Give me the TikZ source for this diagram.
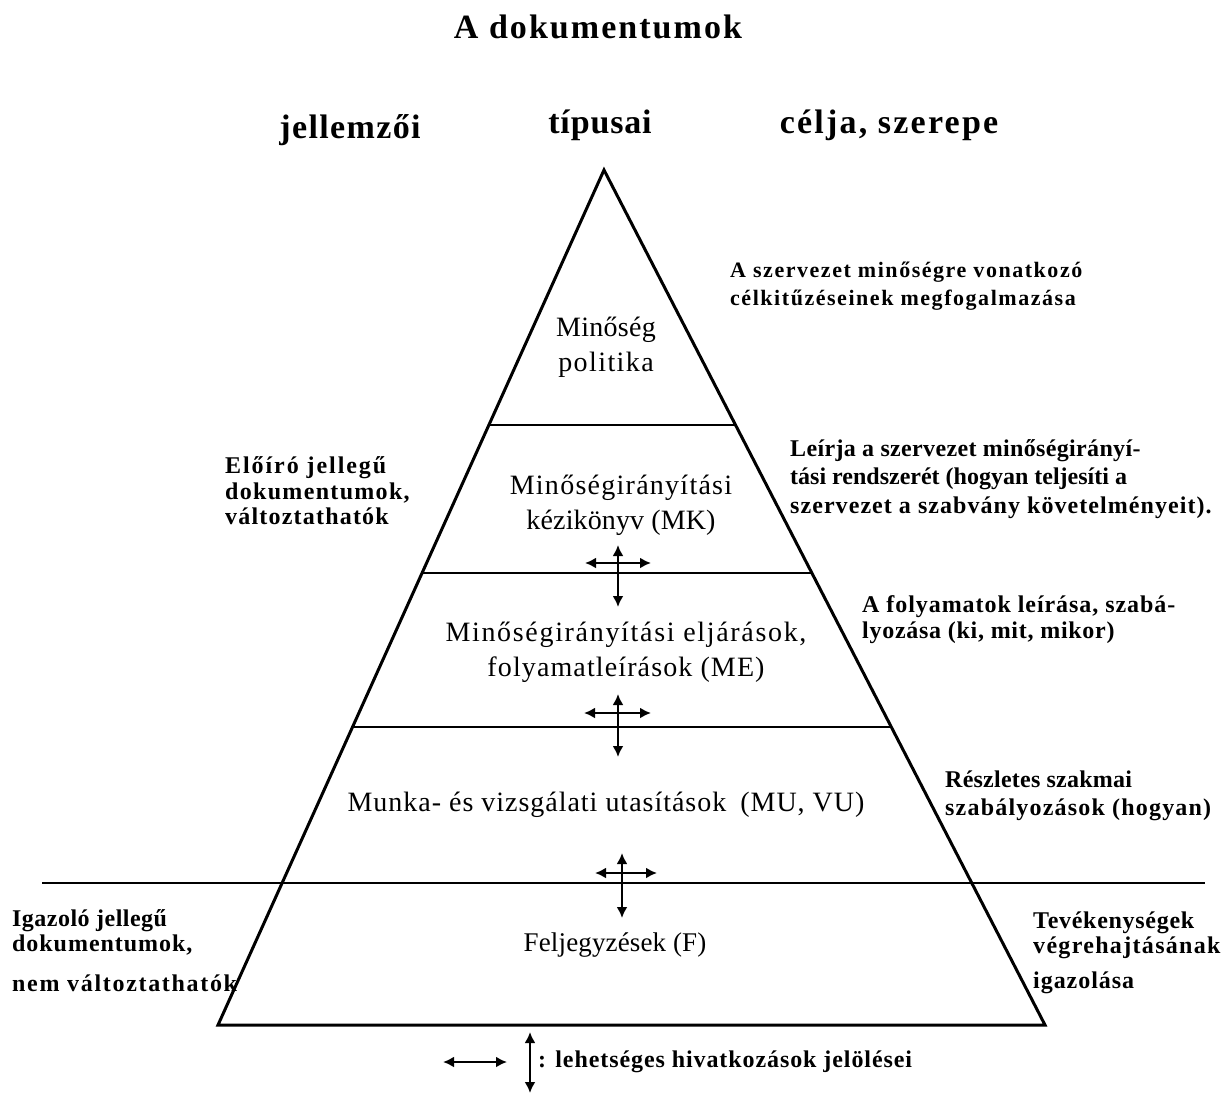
\documentclass[tikz,border=0pt]{standalone}
\usepackage{fontspec}
\setmainfont{Liberation Serif}
\usetikzlibrary{arrows.meta,calc}
\newcommand{\lsp}[1]{\addfontfeature{LetterSpace=#1}}
\tikzset{
  edge/.style={line width=3pt, line join=miter},
  thinrule/.style={line width=1.5pt},
  thickrule/.style={line width=2.6pt},
  inner/.style={font=\fontsize{28}{35}\selectfont\lsp{4}, align=center, inner sep=0pt},
  side/.style={font=\fontsize{24}{28.5}\selectfont\bfseries\lsp{3}, align=left, anchor=west, inner sep=0pt},
  head/.style={font=\fontsize{34}{38}\selectfont\bfseries\lsp{4}, inner sep=0pt},
  refarrow/.style={line width=2.2pt, {Latex[length=11pt,width=11pt]}-{Latex[length=11pt,width=11pt]}},
}
\begin{document}
\begin{tikzpicture}[x=1pt,y=-1pt]
\useasboundingbox (0,0) rectangle (1222,1095);
% title and headers
\node[head, font=\fontsize{34}{38}\selectfont\bfseries\lsp{6}] (title) at (598,27) {A dokumentumok};
\node[head] (hjell) at (350,130) {jellemzői};
\node[head, font=\fontsize{34}{38}\selectfont\bfseries\lsp{2.5}] (htip) at (600,125) {típusai};
\node[head, font=\fontsize{34}{38}\selectfont\bfseries\lsp{6.5}] (hcel) at (889,125) {célja, szerepe};
% pyramid
\coordinate (apex) at (604,170);
\coordinate (bl) at (218,1025);
\coordinate (br) at (1045,1025);
\draw[edge] (bl) -- (apex) -- (br) -- cycle;
% levels
\coordinate (l1a) at ($(apex)!{255/855}!(bl)$);
\coordinate (l1b) at ($(apex)!{255/855}!(br)$);
\coordinate (l2a) at ($(apex)!{403/855}!(bl)$);
\coordinate (l2b) at ($(apex)!{403/855}!(br)$);
\coordinate (l3a) at ($(apex)!{557/855}!(bl)$);
\coordinate (l3b) at ($(apex)!{557/855}!(br)$);
\coordinate (l4a) at (42,883);
\coordinate (l4b) at (1205,883);
\draw[thickrule] (l1a) -- (l1b);
\draw[thinrule] (l2a) -- (l2b);
\draw[thickrule] (l3a) -- (l3b);
\draw[thinrule] (l4a) -- (l4b);
% inner texts
\node[inner] (pol) at (606,347) {{\lsp{1}Minőség}\\{\lsp{5}politika}};
\node[inner] (mk) at (621,505) {{\lsp{4.5}Minőségirányítási}\\{\lsp{0.5}kézikönyv (MK)}};
\node[inner] (me) at (626,652) {{\lsp{6}Minőségirányítási eljárások,}\\{\lsp{4}folyamatleírások (ME)}};
\node[inner, font=\fontsize{28}{35}\selectfont\lsp{3.5}] (mu) at (606,805) {Munka- és vizsgálati utasítások\enspace(MU, VU)};
\node[inner, font=\fontsize{27}{34}\selectfont\lsp{0.5}] (fe) at (615,945) {Feljegyzések (F)};
% reference crosses
\coordinate (c1t) at (618,545); \coordinate (c1b) at (618,607);
\coordinate (c1l) at (585,563); \coordinate (c1r) at (651,563);
\coordinate (c2t) at (618,694); \coordinate (c2b) at (618,757);
\coordinate (c2l) at (584,713); \coordinate (c2r) at (651,713);
\coordinate (c3t) at (622,853); \coordinate (c3b) at (622,918);
\coordinate (c3l) at (595,873); \coordinate (c3r) at (657,873);
\draw[refarrow] (c1t) -- (c1b);
\draw[refarrow] (c1l) -- (c1r);
\draw[refarrow] (c2t) -- (c2b);
\draw[refarrow] (c2l) -- (c2r);
\draw[refarrow] (c3t) -- (c3b);
\draw[refarrow] (c3l) -- (c3r);
% right side texts
\node[side, font=\fontsize{22}{28}\selectfont\bfseries\lsp{7}] (r1) at (730,286) {A szervezet minőségre vonatkozó\\célkitűzéseinek megfogalmazása};
\node[side] (r2) at (790,479) {{\lsp{1.4}Leírja a szervezet minőségirányí-}\\{\lsp{0}tási rendszerét (hogyan teljesíti a}\\{\lsp{4.4}szervezet a szabvány követelményeit).}};
\node[side, font=\fontsize{24}{26}\selectfont\bfseries\lsp{3.9}] (r3) at (862,620) {A folyamatok leírása, szabá-\\{\lsp{3}lyozása (ki, mit, mikor)}};
\node[side] (r4) at (945,796) {{\lsp{1}Részletes szakmai}\\{\lsp{5}szabályozások (hogyan)}};
\node[side, font=\fontsize{24}{25}\selectfont\bfseries\lsp{3}] (r5a) at (1033,935) {Tevékenységek\\{\lsp{5.5}végrehajtásának}};
\node[side, font=\fontsize{24}{25}\selectfont\bfseries\lsp{4}] (r5b) at (1033,983) {igazolása};
% left side texts
\node[side, font=\fontsize{24}{25.5}\selectfont\bfseries\lsp{5.5}] (l1) at (225,491) {{\lsp{8}Előíró jellegű}\\dokumentumok,\\{\lsp{5}változtathatók}};
\node[side, font=\fontsize{24}{25}\selectfont\bfseries\lsp{4}] (l2a) at (12,932) {{\lsp{2}Igazoló jellegű}\\dokumentumok,};
\node[side, font=\fontsize{24}{25}\selectfont\bfseries\lsp{7}] (l2b) at (12,983) {nem változtathatók};
% legend
\coordinate (lh1) at (443,1062); \coordinate (lh2) at (507,1062);
\coordinate (lv1) at (530,1032); \coordinate (lv2) at (530,1093);
\draw[refarrow] (lh1) -- (lh2);
\draw[refarrow] (lv1) -- (lv2);
\node[side, font=\fontsize{24}{28}\selectfont\bfseries\lsp{3.8}] (leg) at (538,1062) {: lehetséges hivatkozások jelölései};
\end{tikzpicture}
\end{document}
